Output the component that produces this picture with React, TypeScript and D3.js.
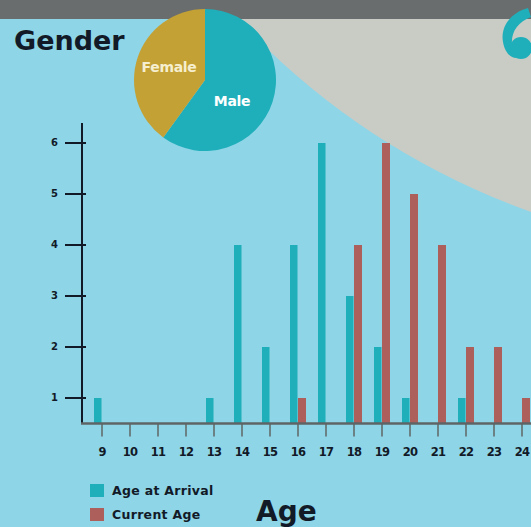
import React from "react";
import * as d3 from "d3";

const ages = [9, 10, 11, 12, 13, 14, 15, 16, 17, 18, 19, 20, 21, 22, 23, 24];
const arrival = [1, 0, 0, 0, 1, 4, 2, 4, 6, 3, 2, 1, 0, 1, 0, 0];
const current = [0, 0, 0, 0, 0, 0, 0, 1, 0, 4, 6, 5, 4, 2, 2, 1];
const yTicks = [1, 2, 3, 4, 5, 6];
const genderLabels = ["Male", "Female"];
const genderValues = [60, 40];
const legendLabels = ["Age at Arrival", "Current Age"];

const W = 531;
const H = 527;
const C = {
  bg: "#8ed5e7",
  gray: "#c9ccc5",
  band: "#6a6d6d",
  teal: "#1fafba",
  red: "#ad5f5b",
  gold: "#c3a135",
  ink: "#121a28",
  axisX: "#5e6466",
};
const FONT = "'DejaVu Sans', sans-serif";

export default function App() {
  const x = d3.scalePoint<number>().domain(ages).range([102, 522]);
  const y = d3.scaleLinear().domain([1, 6]).range([398, 143]);
  const base = y(0.5);
  const barW = 8;

  const pie = d3
    .pie<number>()
    .sort(null)
    .startAngle(0)
    .endAngle(2 * Math.PI)(genderValues);
  const arc = d3.arc<d3.PieArcDatum<number>>().innerRadius(0).outerRadius(71);
  const pieColors = [C.teal, C.gold];
  const labelPos: Record<string, [number, number]> = {
    Male: [27, 22],
    Female: [-36, -12],
  };

  const curve = d3.path();
  curve.moveTo(238, 19);
  curve.quadraticCurveTo(360, 150, 531, 212);
  curve.lineTo(531, 19);
  curve.closePath();

  return (
    <svg
      width={W}
      height={H}
      style={{ position: "absolute", left: 0, top: 0, display: "block" }}
      fontFamily={FONT}
    >
      <rect x={0} y={0} width={W} height={H} fill={C.bg} />
      <path d={curve.toString()} fill={C.gray} />
      <rect x={0} y={0} width={W} height={19} fill={C.band} />

      {/* quote mark */}
      <g fill={C.teal}>
        <circle cx={521} cy={48} r={11} />
        <path
          d="M528,8 C512,12 500,26 503,42 C505,54 512,58 516,58 L512,44 C511,32 518,22 531,17 Z"
        />
      </g>

      <text x={14} y={50} fontSize={27} fontWeight={700} fill={C.ink}>
        Gender
      </text>

      <g transform="translate(205,80)">
        {pie.map((d, i) => (
          <path key={genderLabels[i]} d={arc(d) || ""} fill={pieColors[i]} />
        ))}
        {genderLabels.map((l) => (
          <text
            key={l}
            x={labelPos[l][0]}
            y={labelPos[l][1]}
            textAnchor="middle"
            dominantBaseline="middle"
            fontSize={14}
            fontWeight={700}
            letterSpacing={-0.3}
            fill={l === "Female" ? "#f6efcf" : "#ffffff"}
          >
            {l}
          </text>
        ))}
      </g>

      {/* bars */}
      {ages.map((a, i) =>
        arrival[i] > 0 ? (
          <rect
            key={"a" + a}
            x={(x(a) as number) - barW}
            y={y(arrival[i])}
            width={barW - 0.5}
            height={base - y(arrival[i])}
            fill={C.teal}
          />
        ) : null
      )}
      {ages.map((a, i) =>
        current[i] > 0 ? (
          <rect
            key={"c" + a}
            x={x(a) as number}
            y={y(current[i])}
            width={barW}
            height={base - y(current[i])}
            fill={C.red}
          />
        ) : null
      )}

      {/* y axis */}
      <line x1={82} x2={82} y1={123} y2={base} stroke={C.ink} strokeWidth={2} />
      {yTicks.map((t) => (
        <g key={t}>
          <line x1={65} x2={86} y1={y(t)} y2={y(t)} stroke={C.ink} strokeWidth={2} />
          <text
            x={58}
            y={y(t)}
            textAnchor="end"
            dominantBaseline="middle"
            fontSize={10}
            fontWeight={700}
            fill={C.ink}
          >
            {t}
          </text>
        </g>
      ))}

      {/* x axis */}
      <line x1={81} x2={W} y1={base} y2={base} stroke={C.axisX} strokeWidth={2.5} />
      {ages.map((a) => (
        <g key={a}>
          <line
            x1={x(a) as number}
            x2={x(a) as number}
            y1={base}
            y2={base + 13}
            stroke={C.axisX}
            strokeWidth={1.5}
          />
          <text
            x={x(a) as number}
            y={452}
            textAnchor="middle"
            dominantBaseline="middle"
            fontSize={11.5}
            fontWeight={700}
            letterSpacing={-0.8}
            fill={C.ink}
          >
            {a}
          </text>
        </g>
      ))}

      {/* legend */}
      {legendLabels.map((l, i) => (
        <g key={l} transform={`translate(90,${484 + i * 24})`}>
          <rect x={0} y={0} width={14} height={13} fill={i === 0 ? C.teal : C.red} />
          <text
            x={22}
            y={7}
            dominantBaseline="middle"
            fontSize={12.5}
            fontWeight={700}
            letterSpacing={0.3}
            fill={C.ink}
          >
            {l}
          </text>
        </g>
      ))}

      <text x={256} y={521} fontSize={28} fontWeight={700} fill={C.ink}>
        Age
      </text>
    </svg>
  );
}
